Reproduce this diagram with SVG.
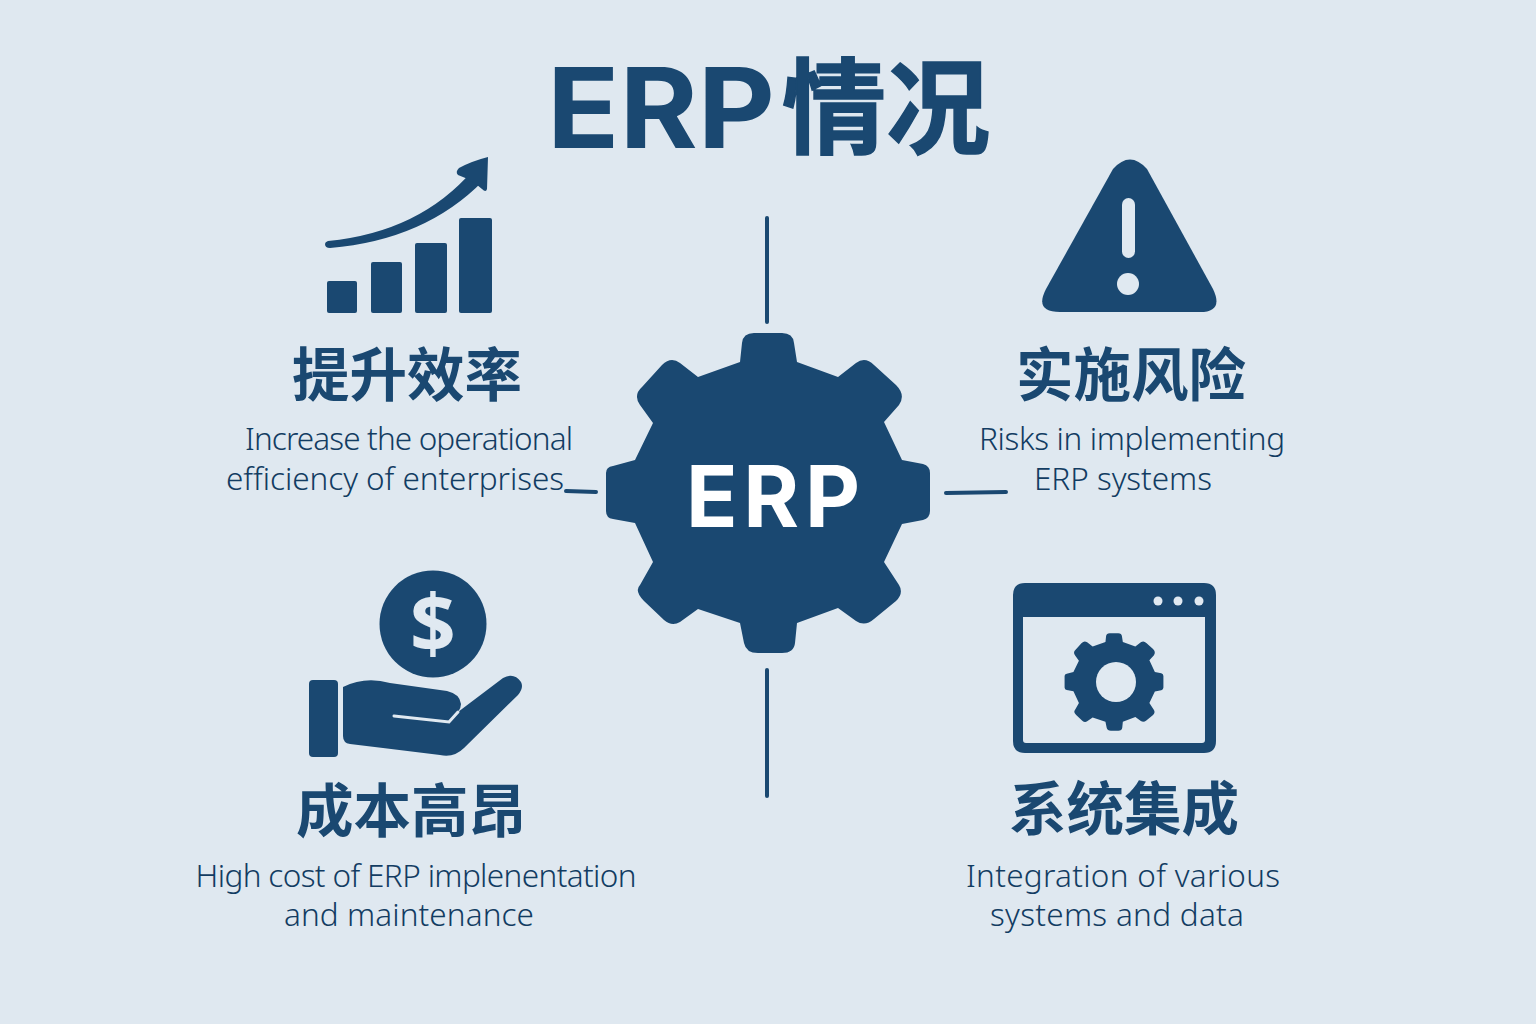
<svg xmlns="http://www.w3.org/2000/svg" xmlns:xlink="http://www.w3.org/1999/xlink" width="1536" height="1024" viewBox="0 0 1536 1024">
<style>
.f{fill:#1a4871}
.l{fill:#e0e9f1}
.h{font-family:"Noto Sans CJK SC","Noto Sans",sans-serif;font-weight:700;fill:#1a4871;text-anchor:middle}
.e{font-family:Inter,"Noto Sans",sans-serif;font-weight:700;text-anchor:middle}
.d{font-family:"Noto Sans","Open Sans",sans-serif;font-weight:300;font-size:31.500px;fill:#123c62;text-anchor:middle}
.c{stroke:#1a4871;stroke-width:4;fill:none;stroke-linecap:round}
</style>
<defs>
<path id="gear" d="M-28 -131L-26 -150Q-25 -160 -14 -160L14 -160Q25 -160 26 -150L29 -131L70 -116L88 -130Q97 -137 106 -128L128 -108Q138 -98 131 -88L116 -71L134 -33L155 -29Q162 -27 162 -20L162 18Q162 25 155 27L134 31L116 69L131 92Q136 100 128 108L106 126Q97 134 88 128L70 115L29 130L27 150Q26 160 14 160L-10 160Q-22 160 -24 150L-28 130L-70 116L-88 129Q-96 134 -104 127L-124 108Q-134 98 -128 92L-115 69L-133 30L-155 26Q-162 25 -162 18L-162 -20Q-162 -26 -155 -27L-133 -33L-115 -70L-128 -88Q-135 -98 -126 -106L-106 -128Q-97 -137 -88 -130L-70 -116Z"/>
</defs>
<rect width="1536" height="1024" fill="#dfe8f0"/>
<g id="title">
<text class="e f" x="661" y="148" font-size="112" textLength="228" lengthAdjust="spacingAndGlyphs">ERP</text>
<text class="h" x="886" y="146" font-size="104" stroke="#1a4871" stroke-width="1.500">情况</text>
</g>
<g id="connectors">
<line class="c" x1="767" y1="218" x2="767" y2="322"/>
<line class="c" x1="767" y1="670" x2="767" y2="796"/>
<line class="c" x1="566" y1="491" x2="596" y2="492"/>
<line class="c" x1="946" y1="493" x2="1006" y2="492"/>
</g>
<g id="center">
<use xlink:href="#gear" href="#gear" class="f" transform="translate(768 493)"/>
<text class="e" x="773" y="527" font-size="85" fill="#fff" textLength="174" lengthAdjust="spacing">ERP</text>
</g>
<g id="efficiency">
<rect class="f" x="327" y="281" width="30" height="32" rx="2"/>
<rect class="f" x="371" y="262" width="31" height="51" rx="2"/>
<rect class="f" x="415" y="243" width="32" height="70" rx="2"/>
<rect class="f" x="459" y="218" width="33" height="95" rx="2"/>
<path class="f" d="M328 241Q420 232 473 170L483 181Q425 240 330 248Q325 248 325 244Q325 242 328 241Z"/>
<path class="f" d="M488 157Q472 161 459 168Q455 172 458 175Q472 180 482 189Q486 193 487 189Z"/>
<text class="h" x="407" y="396" font-size="57.500">提升效率</text>
<text class="d" x="409" y="450" textLength="328">Increase the operational</text>
<text class="d" x="395" y="490" textLength="338">efficiency of enterprises</text>
</g>
<g id="risk">
<path class="f" d="M1113 169Q1130 150 1147 169L1213 289Q1224 312 1200 312L1060 312Q1034 312 1046 289Z"/>
<rect class="l" x="1122" y="198" width="13" height="60" rx="6.500"/>
<circle class="l" cx="1128" cy="284" r="11"/>
<text class="h" x="1131" y="396" font-size="57.500">实施风险</text>
<text class="d" x="1132" y="450" textLength="306">Risks in implementing</text>
<text class="d" x="1123" y="490" textLength="178">ERP systems</text>
</g>
<g id="cost">
<circle class="f" cx="433" cy="624" r="53.500"/>
<text class="l" x="433" y="653" font-family="Noto Sans,sans-serif" font-weight="700" font-size="80" text-anchor="middle">$</text>
<rect class="f" x="309" y="680" width="29" height="77" rx="4"/>
<path class="f" d="M343 687Q365 676 390 683L447 691Q460 694 461 704Q461 708 458 712L503 678Q514 672 521 682Q524 688 518 695L464 748Q454 758 440 755L383 748L350 744Q343 743 343 736Z"/>
<path d="M394 716L449 722L458 712" fill="none" stroke="#e0e9f1" stroke-width="3" stroke-linecap="round"/>
<text class="h" x="411" y="832" font-size="57.500">成本高昂</text>
<text class="d" x="416" y="887" textLength="441">High cost of ERP implenentation</text>
<text class="d" x="409" y="926" textLength="250">and maintenance</text>
</g>
<g id="integration">
<path class="f" fill-rule="evenodd" d="M1025 583L1204 583Q1216 583 1216 595L1216 741Q1216 753 1204 753L1025 753Q1013 753 1013 741L1013 595Q1013 583 1025 583ZM1023 617L1023 740Q1023 743 1026 743L1202 743Q1205 743 1205 740L1205 617Z"/>
<circle class="l" cx="1158" cy="601" r="4.500"/>
<circle class="l" cx="1178" cy="601" r="4.500"/>
<circle class="l" cx="1199" cy="601" r="4.500"/>
<use xlink:href="#gear" href="#gear" class="f" transform="translate(1114 682) scale(.305)"/>
<circle class="l" cx="1116" cy="682" r="20"/>
<text class="h" x="1124" y="830" font-size="57.500">系统集成</text>
<text class="d" x="1123" y="887" textLength="314">Integration of various</text>
<text class="d" x="1117" y="926" textLength="254">systems and data</text>
</g>
</svg>
